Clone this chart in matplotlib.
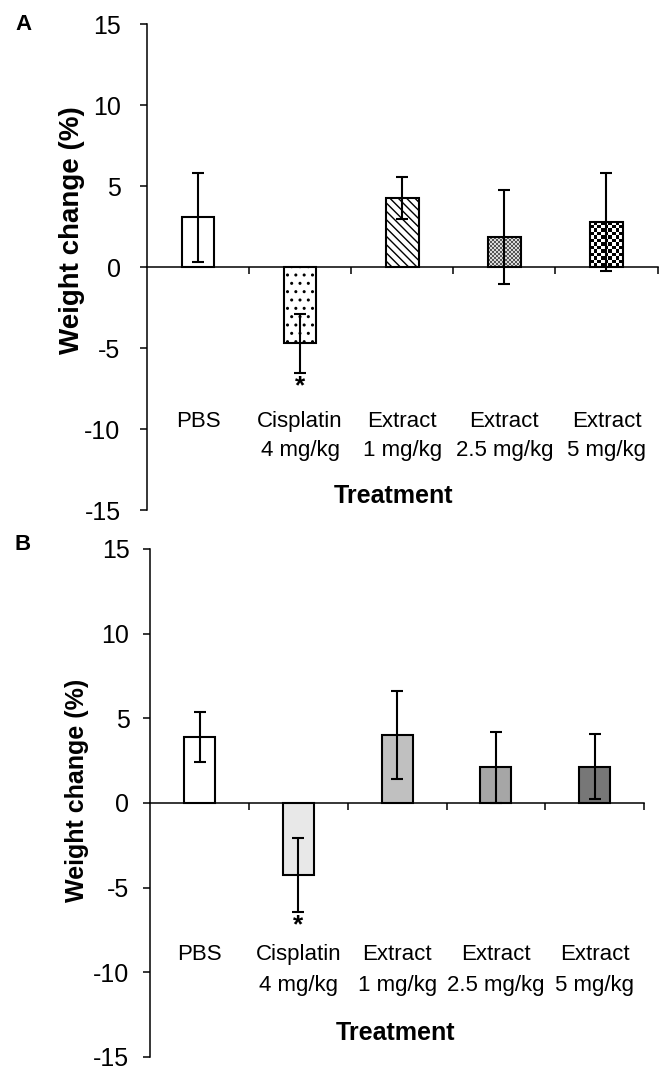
import numpy as np
import matplotlib
matplotlib.use("Agg")
import matplotlib.pyplot as plt
from matplotlib.colors import ListedColormap

plt.rcParams["font.family"] = ["Liberation Sans", "DejaVu Sans"]
plt.rcParams["axes.unicode_minus"] = False

# ---- data -------------------------------------------------------------
groups = ["PBS", "Cisplatin", "Extract", "Extract", "Extract"]
doses = ["", "4 mg/kg", "1 mg/kg", "2.5 mg/kg", "5 mg/kg"]
significant = [False, True, False, False, False]

# panel A: weight change (%), mean and error
mean_a = [3.1, -4.7, 4.3, 1.85, 2.8]
err_a = [2.75, 1.8, 1.3, 2.9, 3.05]

# panel B
mean_b = [3.9, -4.25, 4.0, 2.1, 2.15]
err_b = [1.5, 2.2, 2.6, 2.1, 1.9]

yticks = [-15, -10, -5, 0, 5, 10, 15]

# fills: panel A uses patterns, panel B grey shades
fills_a = [
    {"face": "white"},
    {"face": "white", "hatch": ".."},
    {"face": "white", "hatch": "\\\\\\\\"},
    {"checker": (2.0, "#555555", "#d9d9d9")},
    {"checker": (3.6, "black", "white")},
]
fills_b = [{"face": c} for c in ["white", "#e8e8e8", "#c0c0c0", "#a6a6a6", "#777777"]]

W, H = 666, 1070


def checker_fill(ax, bar, cell_px, dark, light):
    """Fill a bar with a checkerboard texture (cell size in pixels)."""
    x0, y0 = bar.get_x(), bar.get_y()
    w, h = bar.get_width(), bar.get_height()
    p0 = ax.transData.transform((x0, y0))
    p1 = ax.transData.transform((x0 + w, y0 + h))
    nx = max(1, int(round(abs(p1[0] - p0[0]) / cell_px)))
    ny = max(1, int(round(abs(p1[1] - p0[1]) / cell_px)))
    grid = np.add.outer(np.arange(ny), np.arange(nx)) % 2
    im = ax.imshow(grid, cmap=ListedColormap([light, dark]),
                   extent=(x0, x0 + w, y0, y0 + h), origin="lower",
                   interpolation="nearest", aspect="auto", zorder=1.5)
    im.set_clip_path(bar)


def draw_panel(ax, means, errs, fills, cfg):
    x = np.arange(len(means))
    ax.set_xlim(-0.5, len(means) - 0.5)
    ax.set_ylim(-15, 15)

    bars = ax.bar(x, means, width=cfg["bar_w"], color="white",
                  edgecolor="black", linewidth=1.5, zorder=2)
    for bar, st in zip(bars, fills):
        if "checker" in st:
            bar.set_facecolor("none")
            checker_fill(ax, bar, *st["checker"])
        else:
            bar.set_facecolor(st["face"])
            if "hatch" in st:
                bar.set_hatch(st["hatch"])
    ax.set_xlim(-0.5, len(means) - 0.5)
    ax.set_ylim(-15, 15)

    ax.errorbar(x, means, yerr=errs, fmt="none", ecolor="black",
                elinewidth=1.5, capsize=4.3, capthick=1.5, zorder=3)

    for s in ("top", "right"):
        ax.spines[s].set_visible(False)
    ax.spines["bottom"].set_position(("data", 0))
    for s in ("left", "bottom"):
        ax.spines[s].set_linewidth(1.1)

    ax.set_xticks(x + 0.5)
    ax.set_xticklabels([])
    ax.tick_params(axis="x", direction="out", length=5, width=1.1)
    ax.set_yticks(yticks)
    ax.tick_params(axis="y", direction="out", length=5, width=1.1,
                   labelsize=18, pad=cfg["ypad"])

    for i in x:
        ax.text(i, cfg["line1_y"], groups[i], ha="center", va="center", fontsize=16)
        if doses[i]:
            ax.text(i, cfg["line2_y"], doses[i], ha="center", va="center", fontsize=16)
        if significant[i]:
            ax.annotate("*", xy=(i, means[i] - errs[i]), xytext=(0, -1),
                        textcoords="offset points", ha="center", va="top",
                        fontsize=19, fontweight="bold")
    ax.text(cfg["title_x"], cfg["title_y"], "Treatment", ha="center",
            va="center", fontsize=18, fontweight="bold")


fig = plt.figure(figsize=(W / 100, H / 100), dpi=100)

ax_a = fig.add_axes([147 / W, 1 - 510.3 / H, 510.5 / W, 486 / H])
draw_panel(ax_a, mean_a, err_a, fills_a,
           {"bar_w": 0.32, "ypad": 14, "line1_y": -9.5, "line2_y": -11.3,
            "title_x": 1.91, "title_y": -14.1})

ax_b = fig.add_axes([150.3 / W, 1 - 1057 / H, 493.7 / W, 508 / H])
draw_panel(ax_b, mean_b, err_b, fills_b,
           {"bar_w": 0.314, "ypad": 10, "line1_y": -8.95, "line2_y": -10.8,
            "title_x": 1.98, "title_y": -13.6})

fig.text(72 / W, 1 - 230 / H, "Weight change (%)", rotation=90, ha="center",
         va="center", fontsize=20, fontweight="bold")
fig.text(77 / W, 1 - 790 / H, "Weight change (%)", rotation=90, ha="center",
         va="center", fontsize=18, fontweight="bold")
fig.text(23 / W, 1 - 25 / H, "A", ha="center", va="center", fontsize=16,
         fontweight="bold")
fig.text(23 / W, 1 - 545 / H, "B", ha="center", va="center", fontsize=16,
         fontweight="bold")

fig.savefig("out.png", dpi=100)
